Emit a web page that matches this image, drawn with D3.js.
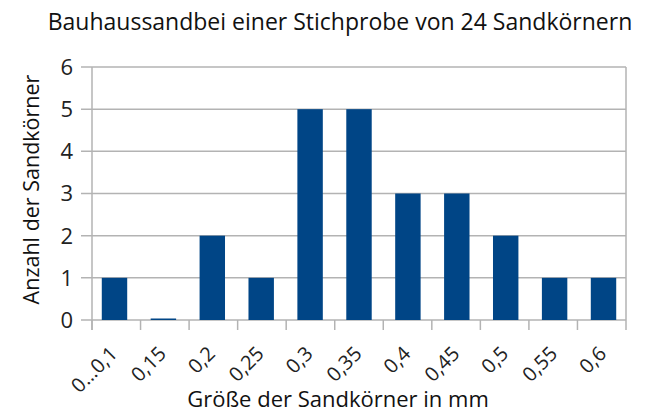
<!DOCTYPE html>
<html>
<head>
<meta charset="utf-8">
<script src="https://cdn.jsdelivr.net/npm/d3@7"></script>
<style>
  body { margin: 0; background: #fff; }
  text { font-family: "Open Sans", "Noto Sans", sans-serif; }
</style>
</head>
<body>
<svg id="chart" width="649" height="414"></svg>
<script>
// Data
const categories = ["0…0,1", "0,15", "0,2", "0,25", "0,3", "0,35", "0,4", "0,45", "0,5", "0,55", "0,6"];
const counts = [1, 0, 2, 1, 5, 5, 3, 3, 2, 1, 1];
const yTicks = [0, 1, 2, 3, 4, 5, 6];

const title = "Bauhaussandbei einer Stichprobe von 24 Sandkörnern";
const xTitle = "Größe der Sandkörner in mm";
const yTitle = "Anzahl der Sandkörner";

const svg = d3.select("#chart");
const margin = { left: 92, right: 23, top: 67, bottom: 94 };
const width = 649, height = 414;

const x = d3.scaleBand()
    .domain(categories)
    .range([margin.left, width - margin.right])
    .paddingInner(0.48)
    .paddingOuter(0.2);

const y = d3.scaleLinear()
    .domain([0, 6])
    .range([height - margin.bottom, margin.top]);

// Gridlines
svg.append("g")
    .selectAll("line")
    .data(yTicks)
    .join("line")
    .attr("x1", margin.left - 11)
    .attr("x2", width - margin.right)
    .attr("y1", d => y(d))
    .attr("y2", d => y(d))
    .attr("stroke", "#b3b3b3")
    .attr("stroke-width", 1.5);

// Left axis line
svg.append("line")
    .attr("x1", margin.left).attr("x2", margin.left)
    .attr("y1", y(6)).attr("y2", y(0) + 10)
    .attr("stroke", "#b3b3b3").attr("stroke-width", 1.5);

// Category boundary ticks (last one is the right frame)
const bounds = d3.range(categories.length + 1).map(i => margin.left + (width - margin.right - margin.left) * i / categories.length);
svg.append("g")
    .selectAll("line")
    .data(bounds)
    .join("line")
    .attr("x1", d => d).attr("x2", d => d)
    .attr("y1", (d, i) => i === categories.length ? y(6) : y(0))
    .attr("y2", y(0) + 10)
    .attr("stroke", "#b3b3b3").attr("stroke-width", 1.5);

// Bars
svg.append("g")
    .selectAll("rect")
    .data(counts)
    .join("rect")
    .attr("x", (d, i) => x(categories[i]))
    .attr("width", x.bandwidth())
    .attr("y", d => d === 0 ? y(0) - 1.5 : y(d))
    .attr("height", d => d === 0 ? 1.5 : y(0) - y(d))
    .attr("fill", "#004586");

// Y tick labels
svg.append("g")
    .selectAll("text")
    .data(yTicks)
    .join("text")
    .attr("x", margin.left - 19)
    .attr("y", d => y(d))
    .attr("dy", "0.36em")
    .attr("text-anchor", "end")
    .attr("font-size", 22)
    .attr("fill", "#222")
    .text(d => d);

// X tick labels (rotated)
svg.append("g")
    .selectAll("text")
    .data(categories)
    .join("text")
    .attr("transform", d => `translate(${x(d) + x.bandwidth() / 2 + 4},${y(0) + 35}) rotate(-45)`)
    .attr("text-anchor", "end")
    .attr("font-size", 20)
    .attr("fill", "#222")
    .text(d => d);

// Titles
svg.append("text")
    .attr("x", 340).attr("y", 30)
    .attr("text-anchor", "middle")
    .attr("font-size", 23)
    .attr("fill", "#111")
    .text(title);

svg.append("text")
    .attr("x", 338).attr("y", 407)
    .attr("text-anchor", "middle")
    .attr("font-size", 22)
    .attr("fill", "#111")
    .text(xTitle);

svg.append("text")
    .attr("transform", `translate(39,${(y(0) + y(6)) / 2 - 4}) rotate(-90)`)
    .attr("text-anchor", "middle")
    .attr("font-size", 21.5)
    .attr("fill", "#111")
    .text(yTitle);
</script>
</body>
</html>
